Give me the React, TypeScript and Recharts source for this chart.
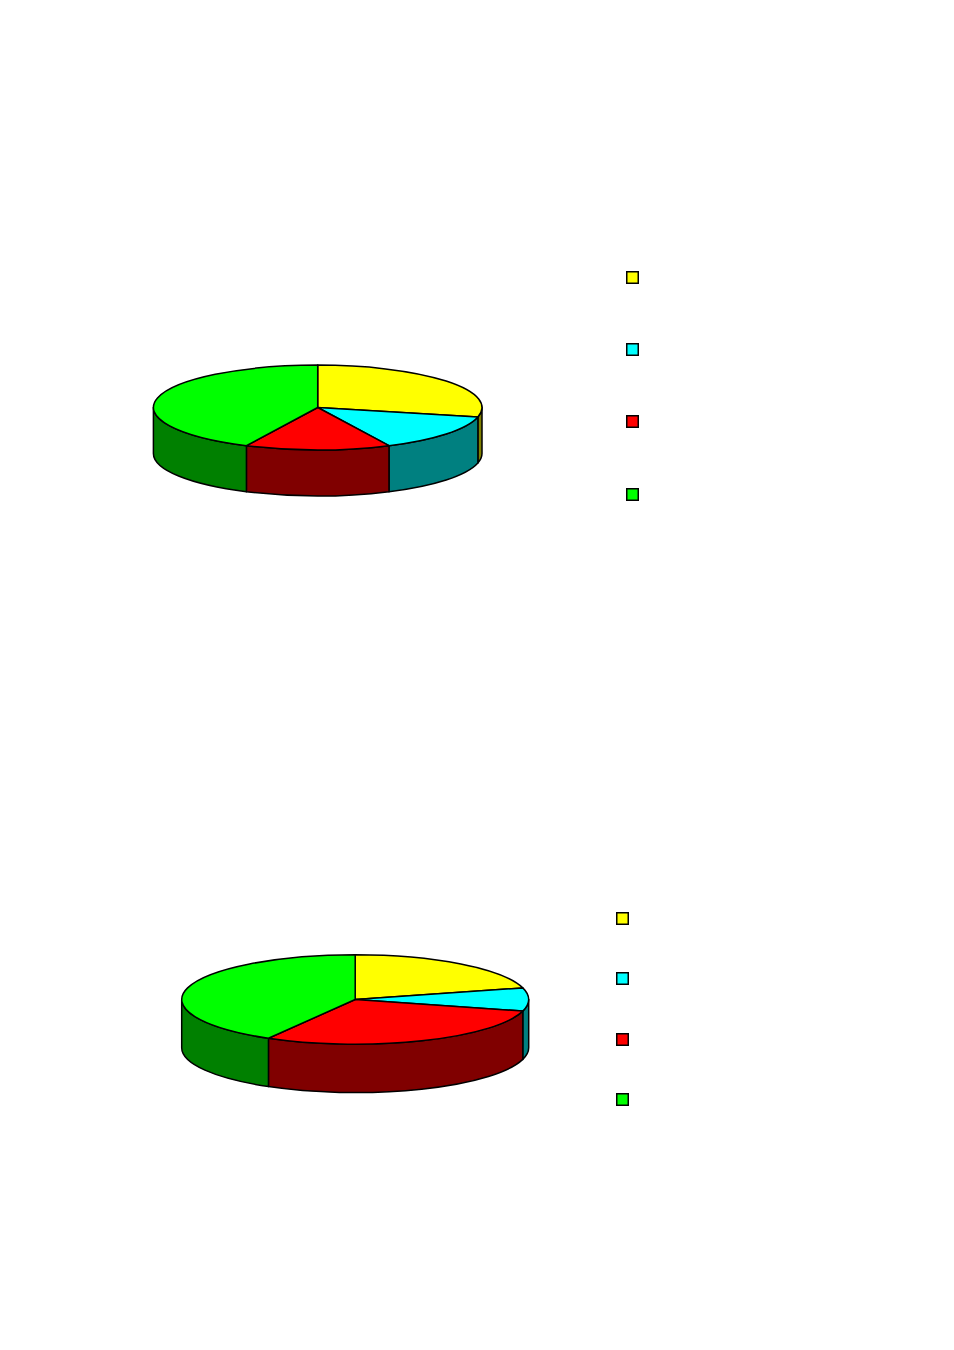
import { PieChart, Pie, Cell, Legend } from 'recharts'

const CATEGORIES = ['A', 'B', 'C', 'D']
const TOP_VALUES = [2, 1, 1, 3]
const BOTTOM_VALUES = [5, 2, 7, 10]
const COLORS = ['#ffff00', '#00ffff', '#ff0000', '#00ff00']
const SIDE_COLORS: Record<string, string> = {
  '#ffff00': '#808000',
  '#00ffff': '#008080',
  '#ff0000': '#800000',
  '#00ff00': '#008000',
}

const toRows = (values: number[]) => values.map((value, i) => ({ name: CATEGORIES[i], value }))

// flattens the sector recharts computed into a tilted disc with a rim
const tiltedSlice = (squash: number, depth: number) => (props: any) => {
  const { cx, cy, outerRadius: rx, startAngle, endAngle, fill } = props
  const ry = rx * squash
  const pt = (deg: number, dy = 0) => {
    const t = (deg * Math.PI) / 180
    return `${cx + rx * Math.cos(t)} ${cy - ry * Math.sin(t) + dy}`
  }
  const large = startAngle - endAngle > 180 ? 1 : 0
  const a = Math.min(startAngle, 0)
  const b = Math.max(endAngle, -180)
  return (
    <g stroke="#000" strokeWidth={1.5} strokeLinejoin="round">
      {a > b && (
        <path
          fill={SIDE_COLORS[fill]}
          d={`M${pt(a)} A${rx} ${ry} 0 0 1 ${pt(b)} L${pt(b, depth)} A${rx} ${ry} 0 0 0 ${pt(a, depth)} Z`}
        />
      )}
      <path
        fill={fill}
        d={`M${cx} ${cy} L${pt(startAngle)} A${rx} ${ry} 0 ${large} 1 ${pt(endAngle)} Z`}
      />
    </g>
  )
}

const keyContent = (gap: number) => ({ payload }: any) => (
  <div>
    {(payload ?? []).map((entry: any, i: number) => (
      <svg key={entry.value} width={13} height={13} style={{ display: 'block', marginBottom: gap }}>
        <rect x={0.75} y={0.75} width={11.5} height={11.5} fill={COLORS[i]} stroke="#000" strokeWidth={1.5} />
      </svg>
    ))}
  </div>
)

function Disc({ values, cx, cy, rx, squash, depth, keyLeft, keyTop, keyGap, top }: any) {
  return (
    <div style={{ position: 'absolute', left: 0, top }}>
      <PieChart width={954} height={675} margin={{ top: 0, right: 0, bottom: 0, left: 0 }}>
        <Pie
          data={toRows(values)}
          dataKey="value"
          nameKey="name"
          cx={cx}
          cy={cy}
          innerRadius={0}
          outerRadius={rx}
          startAngle={90}
          endAngle={-270}
          shape={tiltedSlice(squash, depth)}
          isAnimationActive={false}
        >
          {values.map((_: number, i: number) => (
            <Cell key={i} fill={COLORS[i]} />
          ))}
        </Pie>
        <Legend
          layout="vertical"
          content={keyContent(keyGap)}
          wrapperStyle={{ left: keyLeft, top: keyTop, bottom: 'auto', width: 20 }}
        />
      </PieChart>
    </div>
  )
}

export default function App() {
  return (
    <div style={{ position: 'relative', width: 954, height: 1350, margin: -8, background: '#fff' }}>
      <Disc top={0} values={TOP_VALUES} cx={317.7} cy={407.5} rx={164.3} squash={0.258} depth={46}
        keyLeft={625.7} keyTop={270.7} keyGap={59.3} />
      <Disc top={675} values={BOTTOM_VALUES} cx={355.2} cy={324.5} rx={173.5} squash={0.258} depth={48.3}
        keyLeft={615.5} keyTop={237} keyGap={47.3} />
    </div>
  )
}
